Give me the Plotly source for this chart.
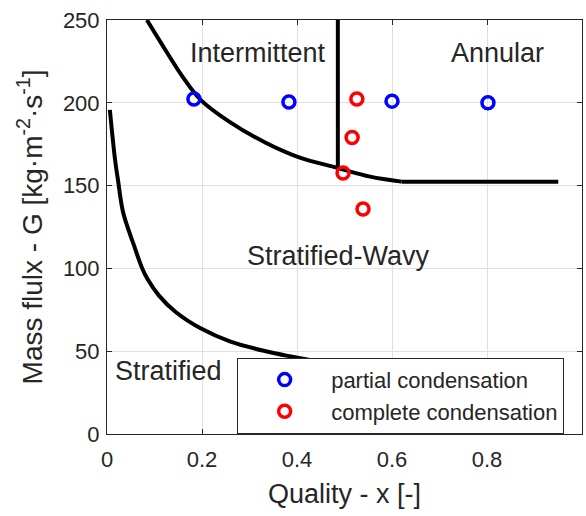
import plotly.graph_objects as go

# Data points
partial_x = [0.183, 0.383, 0.600, 0.802]
partial_G = [202.3, 200.5, 201.0, 200.0]
complete_x = [0.526, 0.516, 0.497, 0.539]
complete_G = [202.3, 179.0, 157.6, 135.9]

# Intermittent / Stratified-Wavy boundary
upper_x = [0.084, 0.123, 0.159, 0.197, 0.258, 0.334, 0.406, 0.484, 0.554, 0.620]
upper_G = [250.0, 231.9, 215.8, 201.8, 188.5, 175.9, 166.9, 160.8, 155.4, 152.4]
flat_x = [0.620, 0.950]
flat_G = [152.4, 152.4]

# Intermittent / Annular boundary
vert_x = [0.486, 0.486]
vert_G = [250.0, 160.4]

# Stratified / Stratified-Wavy boundary
lower_x = [0.006, 0.017, 0.023, 0.034, 0.057, 0.074, 0.085, 0.109, 0.144, 0.197, 0.260, 0.337, 0.387, 0.450]
lower_G = [195.7, 165.5, 153.6, 133.7, 113.7, 100.1, 93.7, 83.7, 73.8, 63.8, 55.8, 49.8, 46.8, 43.5]

regions = ["Intermittent", "Annular", "Stratified-Wavy", "Stratified"]
region_x = [0.318, 0.822, 0.488, 0.130]
region_G = [230.0, 230.0, 107.5, 38.0]

FONT = "Liberation Sans, Arial, sans-serif"
TXT = "#262626"

fig = go.Figure()
for xs, ys, shape in [(upper_x, upper_G, "spline"), (flat_x, flat_G, "linear"),
                      (vert_x, vert_G, "linear"), (lower_x, lower_G, "spline")]:
    fig.add_trace(go.Scatter(x=xs, y=ys, mode="lines",
                             line=dict(color="black", width=4, shape=shape, smoothing=1.0),
                             showlegend=False, hoverinfo="skip"))

fig.add_trace(go.Scatter(x=partial_x, y=partial_G, mode="markers", name="partial condensation",
                         legendgroup="a",
                         marker=dict(symbol="circle-open", size=12, color="blue", line=dict(width=3.5, color="blue"))))
fig.add_trace(go.Scatter(x=complete_x, y=complete_G, mode="markers", name="complete condensation",
                         legendgroup="b",
                         marker=dict(symbol="circle-open", size=12, color="red", line=dict(width=3.5, color="red"))))

for t, x, y in zip(regions, region_x, region_G):
    fig.add_annotation(x=x, y=y, text=t, showarrow=False, font=dict(family=FONT, size=27, color=TXT))

axis_common = dict(showgrid=True, gridcolor="#e0e0e0", gridwidth=1, showline=True, linecolor=TXT,
                   linewidth=1, mirror="ticks", ticks="inside", ticklen=5, tickcolor=TXT, zeroline=False,
                   tickfont=dict(family=FONT, size=22, color=TXT))

fig.update_xaxes(range=[0, 1], tickvals=[0, 0.2, 0.4, 0.6, 0.8, 1], ticktext=["0", "0.2", "0.4", "0.6", "0.8", "1"],
                 ticklabelstandoff=6,
                 title=dict(text="Quality - x [-]", font=dict(family=FONT, size=27, color=TXT), standoff=12),
                 **axis_common)
fig.update_yaxes(range=[0, 250], tickvals=[0, 50, 100, 150, 200, 250],
                 ticklabelstandoff=2,
                 title=dict(text="Mass flulx - G [kg·m<sup>-2</sup>·s<sup>-1</sup>]",
                            font=dict(family=FONT, size=28, color=TXT), standoff=12),
                 **axis_common)

fig.update_layout(
    width=586, height=516,
    margin=dict(l=107, r=4, t=20, b=82),
    plot_bgcolor="white", paper_bgcolor="white",
    legend=dict(x=0.274, y=0.184, xanchor="left", yanchor="top", bgcolor="white",
                bordercolor=TXT, borderwidth=1, font=dict(family=FONT, size=22, color=TXT),
                itemwidth=83, tracegroupgap=0),
)

fig.write_html("out.html")
